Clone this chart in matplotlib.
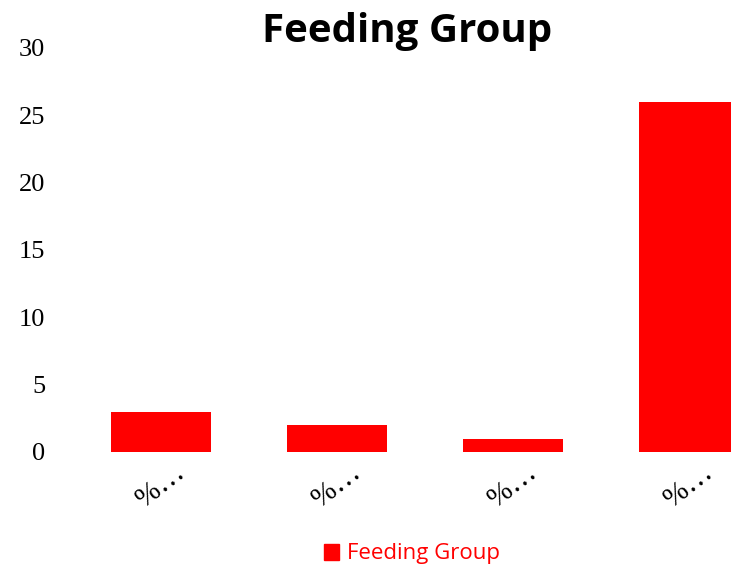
import matplotlib
matplotlib.use("Agg")
import matplotlib.pyplot as plt
from matplotlib.patches import Patch

categories = ["%…", "%…", "%…", "%…"]
values = [3, 2, 1, 26]
series_name = "Feeding Group"
yticks = [0, 5, 10, 15, 20, 25, 30]

W, H = 731, 571
fig = plt.figure(figsize=(W / 100, H / 100), dpi=100)
ax = fig.add_axes([73 / W, (H - 452) / H, (W - 73) / W, 404 / H])

x = list(range(len(categories)))
ax.bar(x, values, width=0.57, color="#FF0000", label=series_name)
ax.set_xlim(-0.5, (731 - 161) / 176)
ax.set_ylim(0, 30)
ax.set_yticks(yticks)
ax.set_yticklabels([str(t) for t in yticks], fontfamily="Liberation Serif", fontsize=19)
ax.set_xticks(x)
ax.set_xticklabels(categories, fontfamily="Liberation Serif", fontsize=21,
                   rotation=38, ha="center", va="top")
ax.tick_params(axis="both", length=0)
ax.tick_params(axis="y", pad=20)
ax.tick_params(axis="x", pad=5)
for s in ax.spines.values():
    s.set_visible(False)

fig.text(407 / W, 1 - 42 / H, "Feeding Group", ha="center", va="baseline",
         fontfamily="Open Sans", fontweight="bold", fontsize=29)

handles = [Patch(color="#FF0000", label=series_name)]
leg = fig.legend(handles=handles, loc="center", bbox_to_anchor=(412 / W, 1 - 554 / H),
                 frameon=False, handlelength=0.7, handleheight=0.7, handletextpad=0.35,
                 prop={"family": "Open Sans", "size": 16})
for t in leg.get_texts():
    t.set_color("#FF0000")

fig.savefig("out.png", dpi=100)
